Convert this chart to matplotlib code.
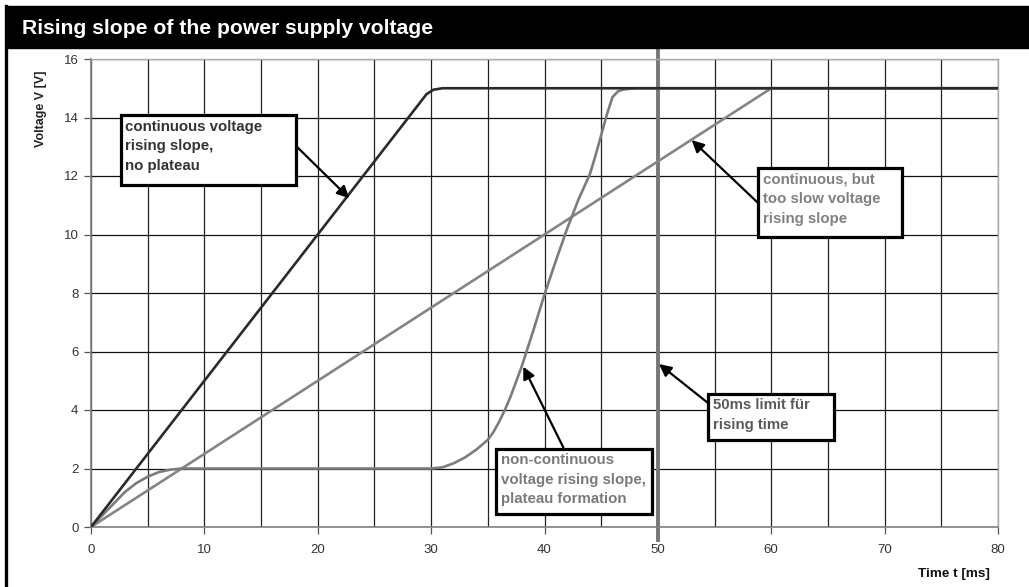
#!/usr/bin/env python3
"""Rising slope of the power supply voltage: three supply ramps against the 50 ms limit."""

from __future__ import annotations

import matplotlib

matplotlib.use("Agg")
import matplotlib.pyplot as plt
from matplotlib.patches import Rectangle
from matplotlib.ticker import MultipleLocator


TITLE = "Rising slope of the power supply voltage"
X_LABEL = "Time t [ms]"
Y_LABEL = "Voltage V [V]"
LIMIT_MS = 50

# continuous voltage rising slope, no plateau
T_FAST = [0, 29.0, 29.6, 30.2, 31.0, 80]
V_FAST = [0, 14.5, 14.8, 14.95, 15.0, 15.0]

# non-continuous rising slope with plateau at 2 V
T_PLATEAU = [0, 1, 2, 3, 4, 5, 6, 7, 8, 30, 31, 32, 33, 34, 35, 35.5, 36, 36.5,
             37, 38, 39, 40, 41, 42, 43, 44, 44.5, 45, 45.5, 46, 46.5, 47, 48, 80]
V_PLATEAU = [0, 0.4, 0.8, 1.2, 1.5, 1.72, 1.88, 1.96, 2.0, 2.0, 2.04, 2.18, 2.38,
             2.65, 2.98, 3.25, 3.6, 4.0, 4.45, 5.5, 6.7, 7.95, 9.1, 10.2, 11.2,
             12.06, 12.7, 13.4, 14.1, 14.7, 14.9, 14.96, 15.0, 15.0]

# continuous but too slow
T_SLOW = [0, 60, 80]
V_SLOW = [0, 15, 15]

# (text, text colour, box [t0, t1, v_bottom, v_top], arrow tail (t, v), arrow tip (t, v))
NOTES = [
    ("continuous voltage\nrising slope,\nno plateau", "#333333",
     (2.62, 18.08, 11.69, 14.08), (18.08, 13.03), (22.78, 11.24)),
    ("non-continuous\nvoltage rising slope,\nplateau formation", "#7a7a7a",
     (35.72, 49.5, 0.43, 2.67), (41.66, 2.72), (38.13, 5.48)),
    ("50ms limit für\nrising time", "#5a5a5a",
     (54.45, 65.53, 2.97, 4.55), (54.55, 4.2), (50.1, 5.57)),
    ("continuous, but\ntoo slow voltage\nrising slope", "#808080",
     (58.86, 71.5, 9.92, 12.26), (58.86, 11.07), (52.98, 13.23)),
]


def main() -> None:
    plt.rcParams["font.family"] = ["Liberation Sans", "DejaVu Sans"]
    fig = plt.figure(figsize=(10.29, 5.87), dpi=100)

    # header bar and left border
    fig.patches.append(Rectangle((7 / 1029, 1 - 48 / 587), 1, 42 / 587,
                                 transform=fig.transFigure, color="black", zorder=0))
    fig.lines.append(plt.Line2D([6 / 1029, 6 / 1029], [0, 1 - 6 / 587],
                                transform=fig.transFigure, color="black", lw=2.4))
    fig.text(22 / 1029, 1 - 28 / 587, TITLE, color="white", fontsize=15.2,
             fontweight="bold", va="center", ha="left")

    ax = fig.add_axes([91 / 1029, 1 - 527 / 587, 907 / 1029, 468 / 587])
    ax.set_xlim(0, 80)
    ax.set_ylim(0, 16)
    ax.xaxis.set_major_locator(MultipleLocator(10))
    ax.xaxis.set_minor_locator(MultipleLocator(5))
    ax.yaxis.set_major_locator(MultipleLocator(2))
    ax.grid(which="both", axis="x", color="#222222", lw=0.9)
    ax.grid(which="major", axis="y", color="#111111", lw=0.9)
    ax.set_axisbelow(True)
    ax.tick_params(which="major", length=5, width=0.9, color="#555555",
                   labelsize=9.5, labelcolor="#333333", pad=4)
    ax.tick_params(which="minor", length=0)
    ax.tick_params(axis="x", pad=7)
    for side in ("left", "bottom"):
        ax.spines[side].set_color("#808080")
        ax.spines[side].set_linewidth(1.2)
    for side in ("top", "right"):
        ax.spines[side].set_color("#aaaaaa")
        ax.spines[side].set_linewidth(1.0)

    ax.plot(T_SLOW, V_SLOW, color="#858585", lw=1.9, zorder=3)
    ax.plot(T_PLATEAU, V_PLATEAU, color="#7c7c7c", lw=1.9, zorder=3)
    ax.plot(T_FAST, V_FAST, color="#2a2a2a", lw=1.9, zorder=4)
    ax.plot([LIMIT_MS, LIMIT_MS], [-0.45, 16.4], color="#777777", lw=2.8,
            clip_on=False, zorder=2)

    for text, colour, (t0, t1, v0, v1), tail, tip in NOTES:
        ax.add_patch(Rectangle((t0, v0), t1 - t0, v1 - v0, facecolor="white",
                               edgecolor="black", lw=2.3, zorder=6))
        ax.text(t0 + 0.4, v1 - 0.15, text, color=colour, fontsize=10.8,
                fontweight="bold", va="top", ha="left", linespacing=1.5, zorder=7)
        ax.annotate("", xy=tip, xytext=tail, zorder=5,
                    arrowprops=dict(arrowstyle="-|>", color="black", lw=1.6,
                                    mutation_scale=18, shrinkA=0, shrinkB=0))

    fig.text(990 / 1029, 1 - 574 / 587, X_LABEL, fontsize=9.7, fontweight="bold",
             ha="right", va="center", color="#111111")
    fig.text(41 / 1029, 1 - 109 / 587, Y_LABEL, fontsize=9, fontweight="bold",
             rotation=90, ha="center", va="center", color="#222222")

    fig.savefig("out.png", dpi=100)
    plt.close(fig)


if __name__ == "__main__":
    main()
